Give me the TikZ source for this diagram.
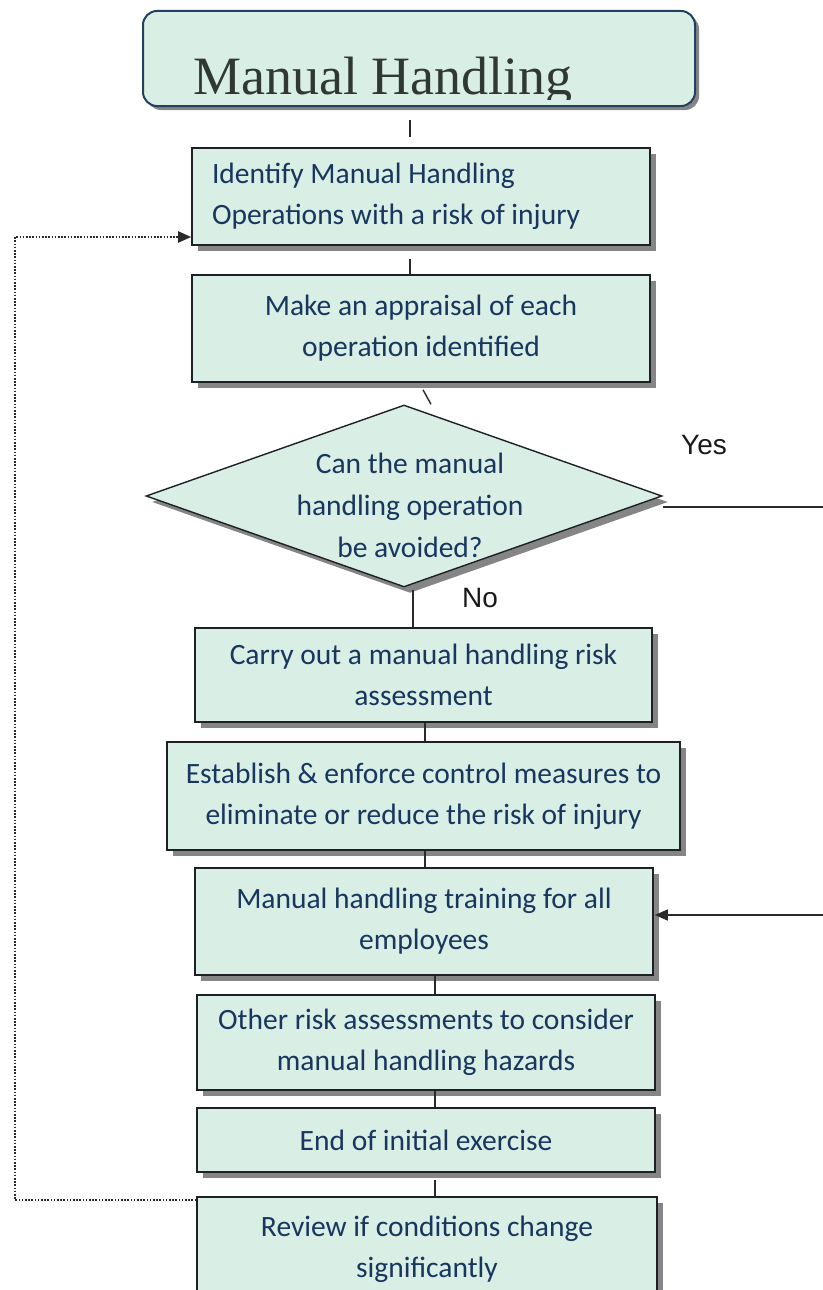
\documentclass[tikz,border=0pt]{standalone}
\usepackage{fontspec}
\setmainfont{Carlito}
\newfontfamily\headfont{Liberation Serif}
\newfontfamily\tagfont{Liberation Sans}
\usetikzlibrary{shapes.geometric,shadows,arrows.meta}
\definecolor{boxfill}{HTML}{D9EEE4}
\definecolor{boxline}{HTML}{1E2026}
\definecolor{inkblue}{HTML}{18365E}
\definecolor{shade}{HTML}{858585}
\definecolor{titleline}{HTML}{22405F}
\definecolor{titleink}{HTML}{303835}
\definecolor{wire}{HTML}{2A2A2A}
\begin{document}
\begin{tikzpicture}[x=1pt,y=-1pt,
  boxshadow/.style={drop shadow={shadow xshift=6pt,shadow yshift=-6pt,fill=shade,opacity=1}},
  stepbox/.style={draw=boxline,line width=1.6pt,fill=boxfill,text=inkblue,
    font=\fontsize{29.5}{41}\selectfont,align=flush center,inner sep=0pt,boxshadow},
  titlebox/.style={draw=titleline,line width=2pt,fill=boxfill,rounded corners=14pt,
    minimum width=552pt,minimum height=95pt,inner sep=0pt,
    drop shadow={shadow xshift=4pt,shadow yshift=-4pt,fill=shade,opacity=1}},
  titletext/.style={text=titleink,font=\headfont\fontsize{54}{60}\selectfont,inner sep=0pt},
  decision/.style={diamond,draw=boxline,line width=1.4pt,fill=boxfill,inner sep=0pt,
    minimum width=516pt,minimum height=182pt,boxshadow},
  decisiontext/.style={text=inkblue,font=\fontsize{29.5}{42}\selectfont,align=center,inner sep=0pt},
  answer/.style={text=black!90,font=\tagfont\fontsize{28}{32}\selectfont,inner sep=0pt},
  conn/.style={draw=wire,line width=1.4pt},
  loopback/.style={draw=wire,line width=2pt,dash pattern=on 1.6pt off 1.6pt,
    -{Triangle[length=13pt,width=11pt]}},
  yesroute/.style={draw=wire,line width=1.4pt,-{Triangle[length=13pt,width=11pt]}},
]
\useasboundingbox (0,0) rectangle (822,1290);

% heading
\node[titlebox] (title) at (419,58.5) {};
\begin{scope}
  \clip (title.north west) rectangle ([yshift=8pt]title.south east);
  \node[titletext,anchor=base west] (titletxt) at (193,94) {Manual Handling};
\end{scope}

% process steps
\node[stepbox,align=flush left,text width=418pt,minimum width=458pt,minimum height=97pt] (b1)
  at (421,196.5) {Identify Manual Handling\\Operations with a risk of injury};
\node[stepbox,text width=440pt,minimum width=458pt,minimum height=107pt] (b2)
  at (421,328.5) {Make an appraisal of each\\operation identified};
\node[decision] (dia) at (404,496) {};
\node[decisiontext] (diatext) at (410,505) {Can the manual\\handling operation\\be avoided?};
\node[stepbox,text width=440pt,minimum width=457pt,minimum height=94pt] (b3)
  at (423.5,675) {Carry out a manual handling risk\\assessment};
\node[stepbox,text width=500pt,minimum width=513pt,minimum height=108pt] (b4)
  at (423.5,796) {Establish \& enforce control measures to\\eliminate or reduce the risk of injury};
\node[stepbox,text width=440pt,minimum width=458pt,minimum height=107pt] (b5)
  at (424,921.5) {Manual handling training for all\\employees};
\node[stepbox,text width=440pt,minimum width=458pt,minimum height=95pt] (b6)
  at (426,1042.5) {Other risk assessments to consider\\manual handling hazards};
\node[stepbox,text width=440pt,minimum width=458pt,minimum height=64pt] (b7)
  at (426,1140) {End of initial exercise};
\node[stepbox,text width=440pt,minimum width=460pt,minimum height=104pt] (b8)
  at (427,1249) {Review if conditions change\\significantly};

% answers
\node[answer] (yes) at (704,445) {Yes};
\node[answer] (no) at (480,598) {No};

% vertical connectors
\draw[conn,shorten <=13pt,shorten >=10pt] (title.south -| 410,0) -- (b1.north -| 410,0);
\draw[conn,shorten <=13pt] (b1.south -| 410,0) -- (b2.north -| 410,0);
\draw[conn] ([shift={(2,7)}]b2.south) -- ([shift={(27,0)}]dia.north);
\draw[conn,shorten <=2pt] (dia.south -| 413,0) -- (b3.north -| 413,0);
\draw[conn] (b3.south -| 425,0) -- (b4.north -| 425,0);
\draw[conn] (b4.south -| 425,0) -- (b5.north -| 425,0);
\draw[conn] (b5.south -| 435,0) -- (b6.north -| 435,0);
\draw[conn] (b6.south -| 435,0) -- (b7.north -| 435,0);
\draw[conn,shorten <=7pt] (b7.south -| 435,0) -- (b8.north -| 435,0);

% "yes" branch runs out past the right edge and back to the training step
\coordinate (yesout) at ([yshift=-11pt]dia.east);
\draw[yesroute] (yesout) -- (yesout -| 840,0) -- (840,915) -- ([xshift=1pt]b5.east |- 0,915);

% review loop back to the first step
\draw[loopback] (b8.west |- 0,1200) -- (15,1200) -- (15,237) -- (b1.west |- 0,237);
\end{tikzpicture}
\end{document}
